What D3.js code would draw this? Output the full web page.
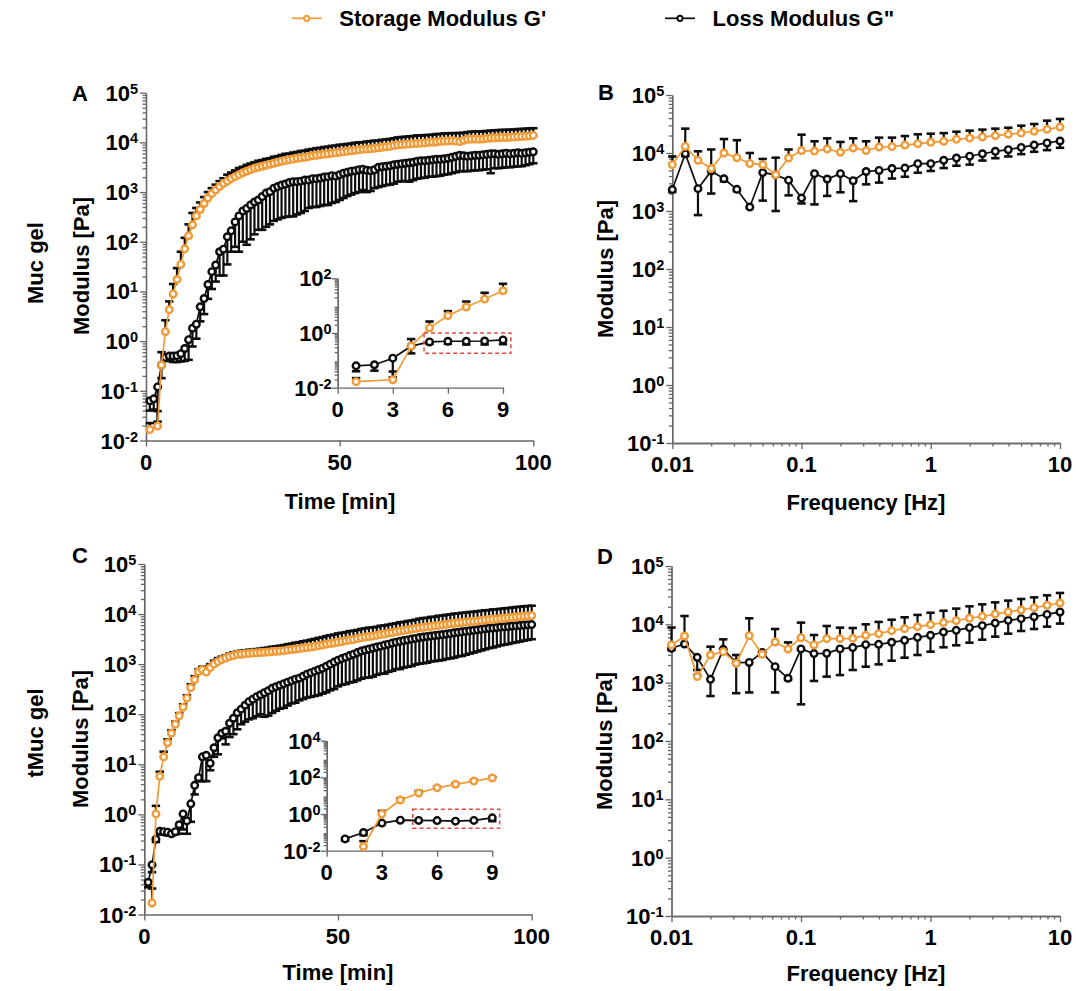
<!DOCTYPE html>
<html><head><meta charset="utf-8">
<script src="https://cdn.jsdelivr.net/npm/d3@7"></script>
<style>
body{margin:0;background:#fff}
svg text{font-family:"Liberation Sans",Arial,Helvetica,sans-serif;font-weight:bold;fill:#000}
</style>
</head><body>
<svg id="c" width="1076" height="991"></svg>
<script>
// ---------------- DATA ----------------
const seriesNames = ["Storage Modulus G'", 'Loss Modulus G"'];
const rowLabels = ["Muc gel", "tMuc gel"];
const panelLetters = ["A", "B", "C", "D"];
const timeTicks = [0, 50, 100];
const insetTimeTicks = [0, 3, 6, 9];
const freqTicks = [0.01, 0.1, 1, 10];
const freqTickLabels = ["0.01", "0.1", "1", "10"];

const timeMin = [1,2,3,4,5,6,7,8,9,10,11,12,13,14,15,16,17,18,19,20,21,22,23,24,25,26,27,28,29,30,
31,32,33,34,35,36,37,38,39,40,41,42,43,44,45,46,47,48,49,50,51,52,53,54,55,56,57,58,59,60,
61,62,63,64,65,66,67,68,69,70,71,72,73,74,75,76,77,78,79,80,81,82,83,84,85,86,87,88,89,90,
91,92,93,94,95,96,97,98,99,100];

// Panel A (Muc gel, time sweep) - Pa
const gpA = [0.0166,null,0.0195,0.33,1.55,4.3,8.9,17.4,35,72,
132,219,331,447,589,759,933,1100,1290,1480,
1660,1860,2040,2240,2450,2630,2820,3020,3160,3310,
3470,3630,3800,3980,4170,4320,4470,4620,4790,4900,
5010,5190,5370,5500,5620,5750,5890,6030,6170,6310,
6460,6610,6760,6920,7080,7240,7330,7410,7590,7760,
7940,8130,8320,8610,8910,9020,9120,9330,9440,9550,
9660,9770,10000,10100,10200,10500,10600,10700,10800,10600,
10400,11000,11500,11600,11700,11500,11700,12000,12200,12300,
12400,12600,12500,12700,12900,13000,13200,13300,13500,13800];
const gpA_upper = [0.0224,null,0.039,0.60,2.63,6.3,14.1,29.5,63,120,
224,380,479,617,794,1000,1200,1410,1660,1900,
2240,2470,2730,3050,3230,3520,3750,3990,4270,4400,
4650,4790,5130,5290,5590,5880,5950,6240,6420,6710,
6810,7160,7360,7650,7760,8050,8190,8500,8640,8960,
9040,9320,9460,9830,9980,10100,10400,10600,10800,10900,
11300,11400,11700,12100,12600,12800,13000,13200,13400,13800,
13700,14000,14100,14300,14700,14800,15100,15300,15300,15400,
15400,15600,16100,16400,16600,16600,16700,17000,17200,17500,
17700,17800,17900,18000,18200,18500,18600,18900,19000,19300];
const gdpA = [0.063,0.069,0.12,0.33,0.47,0.50,0.50,0.51,0.56,0.71,
1.07,1.82,2.19,4.9,7.2,13.8,25,34,63,71,
126,166,251,331,417,468,550,631,692,813,
955,1020,1200,1290,1380,1450,1550,1620,1620,1660,
1740,1740,1860,1860,1910,2000,2040,2140,2090,2240,
2400,2510,2630,2690,2820,2880,2750,2690,2820,3160,
3240,3310,3390,3550,3630,3720,3800,3890,3980,4170,
4270,4270,4370,4470,4570,4570,4680,4790,5010,5250,
5500,5370,5250,5370,5500,5500,5620,5750,5890,5890,
5750,5890,6030,5890,6030,6170,6030,6170,6310,6460];
const gdpA_lower = [0.040,0.042,0.024,0.18,0.40,0.40,0.38,0.38,0.39,0.40,
0.42,0.78,1.12,2.5,3.5,7.1,11.2,15.8,20.9,20.9,
35,63,79,63,100,87,112,141,174,174,
200,224,263,282,302,316,324,324,355,380,
417,479,501,501,525,550,550,603,631,692,
759,832,891,955,1000,1100,1000,1050,1200,1260,
1320,1380,1410,1480,1620,1660,1660,1620,1740,1860,
1910,1950,2040,2040,2090,2140,2240,2290,2400,2510,
2630,2630,2630,2690,2750,2750,2820,2880,2400,3020,
3020,3090,3160,3160,3240,3310,3310,3470,3630,3800];

// Panel C (tMuc gel, time sweep) - Pa
const gpC = [null,0.017,1.02,5.75,14.1,26.9,41.7,63,93,138,
209,339,490,708,776,692,851,1000,1120,1230,
1320,1410,1480,1550,1580,1620,1640,1660,1680,1700,
1720,1740,1780,1800,1820,1860,1910,1950,2000,2040,
2090,2140,2190,2260,2340,2400,2510,2570,2630,2750,
2820,2920,3020,3090,3240,3350,3470,3550,3630,3760,
3890,3980,4170,4270,4420,4570,4680,4840,5010,5130,
5310,5430,5560,5690,5820,5960,6100,6240,6380,6530,
6680,6760,6920,7080,7160,7240,7410,7590,7760,7850,
7940,8130,8220,8410,8510,8710,8910,9020,9120,9330];
const gpC_upper = [null,0.033,1.48,7.1,17.8,31.6,47.9,71,105,158,
240,398,575,794,891,794,1000,1170,1320,1410,
1500,1620,1720,1780,1850,1880,1940,1940,2000,2040,
2100,2140,2230,2270,2330,2400,2500,2570,2680,2750,
2860,2950,3070,3190,3350,3460,3640,3780,3890,4100,
4230,4350,4560,4640,4800,5030,5170,5360,5450,5560,
5840,5930,6130,6360,6540,6860,6970,7260,7410,7700,
8070,8310,8400,8760,8850,9240,9330,9670,9830,10200,
10300,10600,10700,11000,11100,11400,11600,11900,12000,12400,
12500,12700,13000,13200,13500,13800,14000,14300,14500,14700];
const gdpC = [0.044,0.098,0.32,0.46,0.45,0.44,0.41,0.45,0.62,1.02,
0.74,1.62,3.8,5.4,14.1,15.1,10.5,21.4,33.9,41.7,
45.7,66,83,107,126,151,178,200,224,245,
269,295,331,355,380,407,437,468,501,525,
575,631,676,724,776,832,912,1000,1100,1200,
1290,1380,1480,1580,1700,1820,1910,2000,2090,2190,
2290,2400,2510,2630,2750,2850,2950,3050,3160,3270,
3390,3470,3550,3630,3720,3800,3890,3980,4070,4220,
4320,4420,4520,4620,4730,4840,4950,5070,5190,5250,
5370,5500,5560,5620,5750,5820,5890,6030,6100,6170];
const gdpC_lower = [0.035,0.07,0.28,0.40,0.40,0.38,0.38,0.40,0.41,0.50,
0.41,0.71,2.5,4.6,4.6,4.6,7.6,14.1,15.8,33,
25,35,40,50,63,71,79,83,91,100,
89,94,106,117,129,134,149,164,170,189,
201,215,223,232,241,258,274,300,319,360,
387,400,429,442,476,510,535,540,564,613,
641,648,703,736,798,798,856,885,916,981,
1020,1040,1070,1130,1150,1180,1210,1270,1300,1350,
1430,1460,1540,1620,1700,1790,1880,1980,2080,2150,
2260,2370,2450,2530,2650,2740,2830,2950,3050,3150];

// Frequency sweeps
const freqHz = [0.01,0.0126,0.0158,0.02,0.0251,0.0316,0.0398,0.0501,0.0631,0.0794,
0.1,0.126,0.158,0.2,0.251,0.316,0.398,0.501,0.631,0.794,
1,1.26,1.58,2,2.51,3.16,3.98,5.01,6.31,7.94,10];

// Panel B (Muc gel)
const gpB = [6300,13000,7500,5400,10000,8300,6600,6300,4200,8200,
11000,10800,11700,10300,12200,11000,12700,12900,13700,14500,
15300,15900,17200,18100,18900,19900,21000,22100,23600,25600,28000];
const gpB_upper = [8700,26300,10700,11500,17400,16600,10000,7900,8300,11500,
20700,15900,17900,15500,17900,15900,18400,18400,19600,21000,
21500,22000,23300,24300,25300,26300,27300,29600,31600,36100,38600];
const gdpB = [2340,9700,2430,4900,3600,2360,1170,4600,4200,3400,
1670,4400,3560,4400,3330,4800,5000,5400,5500,6550,
6550,7500,8200,8800,9700,10700,11400,12500,13700,14900,16100];
const gdpB_lower = [2130,8800,850,2000,3240,2200,1120,1510,1000,1860,
1350,1300,1820,2100,1480,2880,3090,3630,3890,4570,
4900,5500,6030,6310,7410,8130,8710,9550,10500,11200,12300];

// Panel D (tMuc gel)
const gpD = [4430,6300,1270,2980,3400,2140,6400,3060,4980,3780,
5900,4430,5680,5680,5750,6470,6920,7790,8430,9120,
9870,10700,11550,12700,13700,15000,16300,17600,19300,21200,23200];
const gpD_upper = [8800,13900,1350,4140,5530,2980,12700,3400,8310,4900,
10700,6560,9360,8770,8650,10000,11000,12000,13200,14500,
15800,17100,18600,20350,22000,23800,25500,27200,29000,31400,34500];
const gdpD = [3880,4600,2720,1140,3730,2200,2220,3300,1880,1190,
3790,3150,3190,3790,3990,4480,4540,4920,5320,5990,
6470,7390,7890,8770,9490,10500,11700,12500,13500,14800,16300];
const gdpD_lower = [3630,4430,1650,590,3400,660,680,2980,680,1110,
425,1070,1270,1350,1650,1880,2060,2380,2680,2980,
3400,4040,4370,4850,5460,6150,6920,7690,8320,9120,10300];

// Highlight boxes in insets: [t0, t1, G0, G1]
const insetBoxA = [4.7, 9.43, 0.18, 1.0];
const insetBoxC = [4.68, 9.4, 0.166, 1.82];

// ---------------- DRAWING ----------------
const ORANGE = "#F09B38", BLACK = "#0d0d0d", AXIS = "#666", RED = "#E8483E";
const svg = d3.select("#c");

function logDecades(lo, hi) {
  const major = [], minor = [];
  for (let e = lo; e <= hi; e++) {
    major.push({v: Math.pow(10, e), e});
    if (e < hi) for (let k = 2; k < 10; k++) minor.push(k * Math.pow(10, e));
  }
  return {major, minor};
}
function styleAxis(sel) {
  sel.selectAll("path,line").attr("stroke", AXIS).attr("stroke-width", 1.3);
  sel.selectAll("text").remove();
}
function yLogAxis(g, y, x0, lo, hi, minorLen) {
  const {major, minor} = logDecades(lo, hi);
  g.append("g").attr("transform", `translate(${x0},0)`)
    .call(d3.axisLeft(y).tickValues(minor).tickSize(minorLen).tickSizeOuter(0)).call(styleAxis);
  g.append("g").attr("transform", `translate(${x0},0)`)
    .call(d3.axisLeft(y).tickValues(major.map(d => d.v)).tickSize(6).tickSizeOuter(0)).call(styleAxis);
  major.forEach(d => {
    const t = g.append("text").attr("x", x0 - 8).attr("y", y(d.v) + 8)
      .attr("text-anchor", "end").attr("font-size", 22).text("10");
    t.append("tspan").attr("dy", -7).attr("font-size", 14.5).text(String(d.e));
  });
}
function xLinAxis(g, x, y0, ticks) {
  g.append("g").attr("transform", `translate(0,${y0})`)
    .call(d3.axisBottom(x).tickValues(ticks).tickSize(6).tickSizeOuter(0)).call(styleAxis);
  ticks.forEach(v => g.append("text").attr("x", x(v)).attr("y", y0 + 29.5)
    .attr("text-anchor", "middle").attr("font-size", 22).text(String(v)));
}
function xLogAxis(g, x, y0) {
  const {minor} = logDecades(-2, 1);
  g.append("g").attr("transform", `translate(0,${y0})`)
    .call(d3.axisBottom(x).tickValues(minor).tickSize(3.5).tickSizeOuter(0)).call(styleAxis);
  g.append("g").attr("transform", `translate(0,${y0})`)
    .call(d3.axisBottom(x).tickValues(freqTicks).tickSize(6).tickSizeOuter(0)).call(styleAxis);
  freqTicks.forEach((v, i) => g.append("text").attr("x", x(v)).attr("y", y0 + 29)
    .attr("text-anchor", "middle").attr("font-size", 22).text(freqTickLabels[i]));
}

function drawSeries(g, xs, vals, ends, x, y, color, xmax) {
  const idx = xs.map((d, i) => i).filter(i => vals[i] != null && (xmax == null || xs[i] <= xmax));
  const eg = g.append("g");
  const eIdx = idx.filter(i => ends[i] != null);
  eg.selectAll("line.stem").data(eIdx).join("line")
    .attr("x1", i => x(xs[i])).attr("x2", i => x(xs[i]))
    .attr("y1", i => y(vals[i])).attr("y2", i => y(ends[i]))
    .attr("stroke", BLACK).attr("stroke-width", 2.2);
  eg.selectAll("line.cap").data(eIdx).join("line")
    .attr("x1", i => x(xs[i]) - 4.2).attr("x2", i => x(xs[i]) + 4.2)
    .attr("y1", i => y(ends[i])).attr("y2", i => y(ends[i]))
    .attr("stroke", BLACK).attr("stroke-width", 2.6);
  const line = d3.line().x(i => x(xs[i])).y(i => y(vals[i]));
  g.append("path").attr("d", line(idx)).attr("fill", "none")
    .attr("stroke", color).attr("stroke-width", 1.7);
  g.selectAll(null).data(idx).join("circle")
    .attr("cx", i => x(xs[i])).attr("cy", i => y(vals[i])).attr("r", 3.3)
    .attr("fill", "#fff").attr("stroke", color).attr("stroke-width", 2.4);
}

function yTitle(xb, yc) {
  svg.append("text").attr("transform", `translate(${xb},${yc}) rotate(-90)`)
    .attr("text-anchor", "middle").attr("font-size", 22).text("Modulus [Pa]");
}

// Panel layouts
const P = {
  A: {x0: 146, x1: 533.3, yTop: 92.7, yBot: 440.5},
  C: {x0: 144.3, x1: 531.7, yTop: 564, yBot: 914.5},
  B: {x0: 672.3, x1: 1060, yTop: 95, yBot: 443},
  D: {x0: 671.5, x1: 1060, yTop: 566, yBot: 916}
};

function timePanel(p, gp, gpU, gdp, gdpL, inset) {
  const g = svg.append("g");
  const x = d3.scaleLinear().domain([0, 100]).range([p.x0, p.x1]);
  const y = d3.scaleLog().domain([1e-2, 1e5]).range([p.yBot, p.yTop]);
  yLogAxis(g, y, p.x0, -2, 5, 3.5);
  xLinAxis(g, x, p.yBot, timeTicks);
  drawSeries(g, timeMin, gdp, gdpL, x, y, BLACK);
  drawSeries(g, timeMin, gp, gpU, x, y, ORANGE);
  // inset
  const gi = svg.append("g");
  const xi = d3.scaleLinear().domain([0, 9]).range([inset.x0, inset.x1]);
  const yi = d3.scaleLog().domain([1e-2, Math.pow(10, inset.hi)]).range([inset.yBot, inset.yTop]);
  const {major, minor} = logDecades(-2, inset.hi);
  const labelled = major.filter(d => d.e % 2 === 0);
  gi.append("g").attr("transform", `translate(${inset.x0},0)`)
    .call(d3.axisLeft(yi).tickValues(minor).tickSize(3).tickSizeOuter(0)).call(styleAxis);
  gi.append("g").attr("transform", `translate(${inset.x0},0)`)
    .call(d3.axisLeft(yi).tickValues(labelled.map(d => d.v)).tickSize(6).tickSizeOuter(0)).call(styleAxis);
  labelled.forEach(d => {
    const t = gi.append("text").attr("x", inset.x0 - 6).attr("y", yi(d.v) + 8)
      .attr("text-anchor", "end").attr("font-size", 22).text("10");
    t.append("tspan").attr("dy", -7).attr("font-size", 14.5).text(String(d.e));
  });
  gi.append("g").attr("transform", `translate(0,${inset.yBot})`)
    .call(d3.axisBottom(xi).tickValues(insetTimeTicks).tickSize(6).tickSizeOuter(0)).call(styleAxis);
  insetTimeTicks.forEach(v => gi.append("text").attr("x", xi(v)).attr("y", inset.yBot + 29)
    .attr("text-anchor", "middle").attr("font-size", 22).text(String(v)));
  drawSeries(gi, timeMin, gdp, gdpL, xi, yi, BLACK, 9);
  drawSeries(gi, timeMin, gp, gpU, xi, yi, ORANGE, 9);
  const b = inset.box;
  gi.append("rect").attr("x", xi(b[0])).attr("y", yi(b[3]))
    .attr("width", xi(b[1]) - xi(b[0])).attr("height", yi(b[2]) - yi(b[3]))
    .attr("fill", "none").attr("stroke", RED).attr("stroke-width", 1.5).attr("stroke-dasharray", "4,3");
}

function freqPanel(p, gp, gpU, gdp, gdpL) {
  const g = svg.append("g");
  const x = d3.scaleLog().domain([0.01, 10]).range([p.x0, p.x1]);
  const y = d3.scaleLog().domain([1e-1, 1e5]).range([p.yBot, p.yTop]);
  yLogAxis(g, y, p.x0, -1, 5, 3.5);
  xLogAxis(g, x, p.yBot);
  drawSeries(g, freqHz, gdp, gdpL, x, y, BLACK);
  drawSeries(g, freqHz, gp, gpU, x, y, ORANGE);
}

timePanel(P.A, gpA, gpA_upper, gdpA, gdpA_lower,
  {x0: 337.7, x1: 503, yTop: 278.3, yBot: 387.7, hi: 2, box: insetBoxA});
timePanel(P.C, gpC, gpC_upper, gdpC, gdpC_lower,
  {x0: 326.7, x1: 492.3, yTop: 740.7, yBot: 850.7, hi: 4, box: insetBoxC});
freqPanel(P.B, gpB, gpB_upper, gdpB, gdpB_lower);
freqPanel(P.D, gpD, gpD_upper, gdpD, gdpD_lower);

// Titles
yTitle(88.5, 266); yTitle(612.5, 269); yTitle(88, 739); yTitle(612, 741);
[["Time [min]", 340, 509], ["Frequency [Hz]", 866, 510], ["Time [min]", 338, 980], ["Frequency [Hz]", 866, 981]]
  .forEach(d => svg.append("text").attr("x", d[1]).attr("y", d[2]).attr("text-anchor", "middle").attr("font-size", 22).text(d[0]));
[[72, 101], [598, 100], [72, 563], [597, 564]].forEach((d, i) =>
  svg.append("text").attr("x", d[0]).attr("y", d[1]).attr("font-size", 22).text(panelLetters[i]));
[[43, 263], [43, 733]].forEach((d, i) =>
  svg.append("text").attr("transform", `translate(${d[0]},${d[1]}) rotate(-90)`)
    .attr("text-anchor", "middle").attr("font-size", 22).text(rowLabels[i]));

// Legend
const leg = [{x: 291.7, color: ORANGE}, {x: 665, color: BLACK}];
leg.forEach((l, i) => {
  svg.append("line").attr("x1", l.x).attr("x2", l.x + 30).attr("y1", 18.3).attr("y2", 18.3)
    .attr("stroke", l.color).attr("stroke-width", 1.7);
  svg.append("circle").attr("cx", l.x + 15).attr("cy", 18.3).attr("r", 2.6)
    .attr("fill", "#fff").attr("stroke", l.color).attr("stroke-width", 2);
  svg.append("text").attr("x", l.x + 47.6).attr("y", 26).attr("font-size", 22).text(seriesNames[i]);
});
</script>
</body></html>
